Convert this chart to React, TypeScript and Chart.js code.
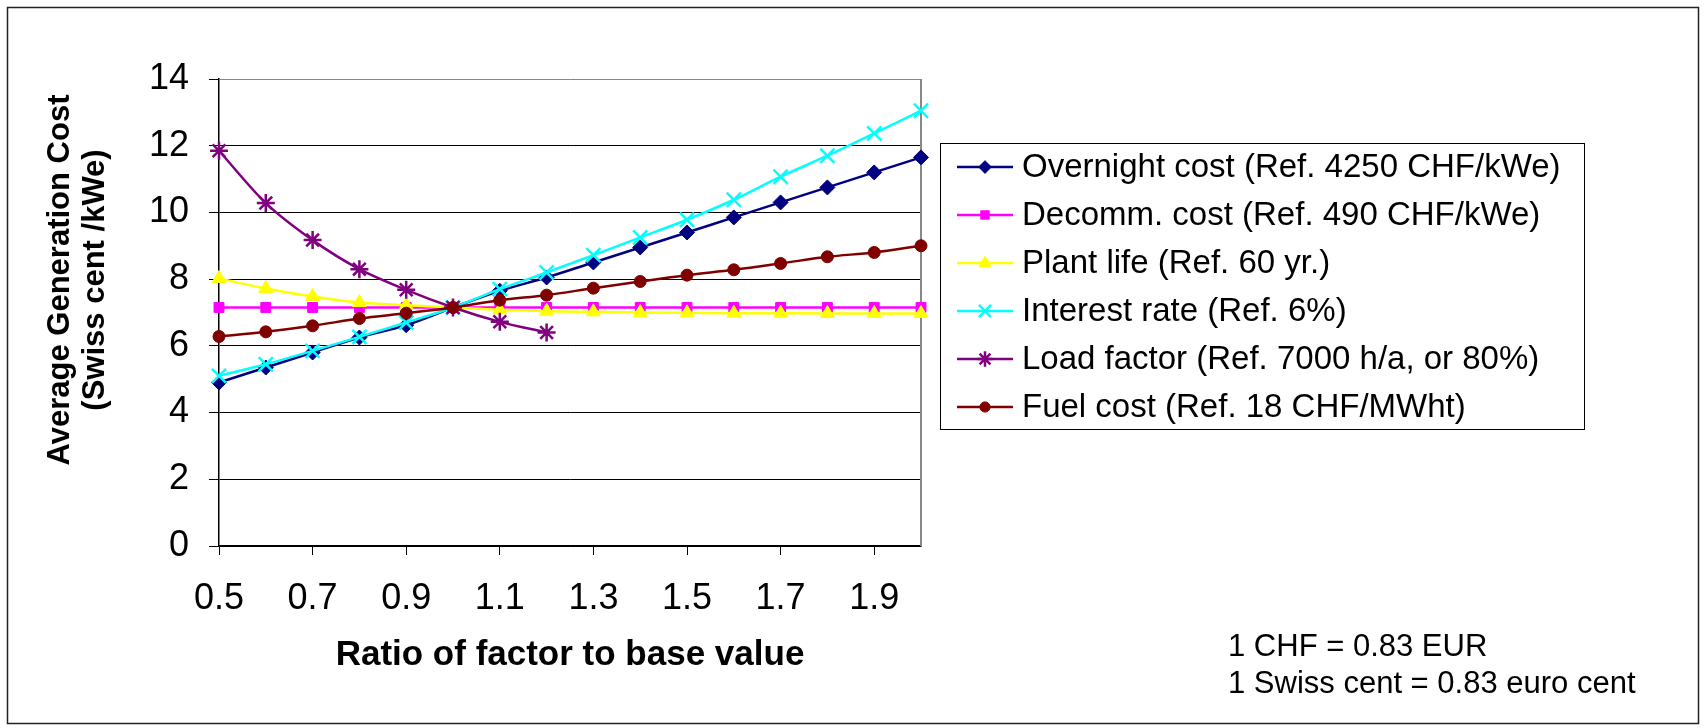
import React, { useEffect, useRef } from 'react';
import { Chart, registerables } from 'chart.js';
import * as helpers from 'chart.js/helpers';

Chart.register(...registerables);

const FONT = 'Arial, "Liberation Sans", sans-serif';

const ratios = [0.5, 0.6, 0.7, 0.8, 0.9, 1.0, 1.1, 1.2, 1.3, 1.4, 1.5, 1.6, 1.7, 1.8, 1.9, 2.0];
const xTickValues = [0.5, 0.7, 0.9, 1.1, 1.3, 1.5, 1.7, 1.9];

const seriesNames = [
  'Overnight cost (Ref. 4250 CHF/kWe)',
  'Decomm. cost (Ref. 490 CHF/kWe)',
  'Plant life (Ref. 60 yr.)',
  'Interest rate (Ref. 6%)',
  'Load factor (Ref. 7000 h/a, or 80%)',
  'Fuel cost (Ref. 18 CHF/MWht)',
];

const overnightCost = [4.9, 5.35, 5.8, 6.25, 6.62, 7.15, 7.65, 8.05, 8.5, 8.95, 9.4, 9.85, 10.3, 10.75, 11.2, 11.65];
const decommCost = [7.15, 7.15, 7.15, 7.15, 7.15, 7.15, 7.15, 7.15, 7.15, 7.15, 7.15, 7.15, 7.15, 7.15, 7.15, 7.15];
const plantLife = [8.02, 7.72, 7.48, 7.3, 7.22, 7.15, 7.08, 7.04, 7.02, 7.0, 6.99, 6.98, 6.98, 6.97, 6.97, 6.97];
const interestRate = [5.1, 5.45, 5.85, 6.27, 6.7, 7.15, 7.7, 8.2, 8.72, 9.25, 9.78, 10.38, 11.07, 11.7, 12.37, 13.05];
const loadFactor = [11.85, 10.28, 9.17, 8.3, 7.68, 7.15, 6.72, 6.4];
const fuelCost = [6.28, 6.42, 6.6, 6.82, 6.98, 7.15, 7.37, 7.52, 7.73, 7.93, 8.12, 8.28, 8.47, 8.67, 8.8, 9.0];

const seriesValues = [overnightCost, decommCost, plantLife, interestRate, loadFactor, fuelCost];
const seriesColors = ['#000080', '#FF00FF', '#FFFF00', '#00FFFF', '#800080', '#800000'];
const seriesMarkers = ['rectRot', 'rect', 'triangle', 'crossRot', 'star', 'circle'];
const markerSizes = [7.5, 7, 8, 10, 9, 6];

const xAxisTitle = 'Ratio of factor to base value';
const yAxisTitle = ['Average Generation Cost', '(Swiss cent /kWe)'];
const notes = ['1 CHF = 0.83 EUR', '1 Swiss cent = 0.83 euro cent'];

const W = 1704;
const H = 728;
const PLOT_LEFT = 219;
const PLOT_RIGHT = 921;
const PLOT_TOP = 79;
const PLOT_BOTTOM = 546;

const decorPlugin = {
  id: 'decor',
  beforeDraw(chart: any) {
    const ctx = chart.ctx;
    ctx.save();
    ctx.fillStyle = '#ffffff';
    ctx.fillRect(0, 0, chart.width, chart.height);
    ctx.restore();
  },
  beforeDatasetsDraw(chart: any) {
    const { ctx, chartArea } = chart;
    ctx.save();
    ctx.strokeStyle = '#888888';
    ctx.lineWidth = 2;
    ctx.beginPath();
    ctx.moveTo(chartArea.right, chartArea.top);
    ctx.lineTo(chartArea.right, chartArea.bottom);
    ctx.stroke();
    ctx.restore();
  },
  afterDraw(chart: any) {
    const ctx = chart.ctx;
    ctx.save();
    // outer frame
    ctx.strokeStyle = '#222';
    ctx.lineWidth = 1.5;
    ctx.strokeRect(7.5, 7.5, 1691, 716);

    // y axis title
    ctx.fillStyle = '#000';
    ctx.font = `bold 31px ${FONT}`;
    ctx.textAlign = 'center';
    ctx.textBaseline = 'middle';
    const ty = 280;
    yAxisTitle.forEach((line, i) => {
      ctx.save();
      ctx.translate(60 + i * 35, ty);
      ctx.rotate(-Math.PI / 2);
      ctx.fillText(line, 0, 0);
      ctx.restore();
    });

    // legend
    const lx = 940, ly = 143, lw = 644, lh = 286;
    ctx.strokeStyle = '#000';
    ctx.lineWidth = 1;
    ctx.strokeRect(lx + 0.5, ly + 0.5, lw, lh);
    ctx.font = `33px ${FONT}`;
    ctx.textAlign = 'left';
    ctx.textBaseline = 'middle';
    chart.data.datasets.forEach((ds: any, i: number) => {
      const y = 167 + i * 48;
      ctx.strokeStyle = ds.borderColor;
      ctx.lineWidth = 2.5;
      ctx.beginPath();
      ctx.moveTo(957, y);
      ctx.lineTo(1013, y);
      ctx.stroke();
      ctx.fillStyle = ds.pointBackgroundColor;
      ctx.strokeStyle = ds.pointBorderColor;
      ctx.lineWidth = ds.pointBorderWidth;
      helpers.drawPoint(ctx, {
        pointStyle: ds.pointStyle,
        radius: ds.pointRadius * 0.85,
        rotation: 0,
        borderWidth: ds.pointBorderWidth,
      } as any, 985, y);
      ctx.fillStyle = '#000';
      ctx.fillText(ds.label, 1022, y + 1);
    });

    // notes
    ctx.font = `31px ${FONT}`;
    ctx.fillStyle = '#000';
    notes.forEach((t, i) => ctx.fillText(t, 1228, 647 + i * 37));
    ctx.restore();
  },
};

export default function App() {
  const ref = useRef<HTMLCanvasElement>(null);
  useEffect(() => {
    if (!ref.current) return;
    const n = seriesValues.length;
    const datasets = seriesValues.map((vals, i) => ({
      label: seriesNames[i],
      data: vals.map((v, j) => ({ x: ratios[j], y: v })),
      borderColor: seriesColors[i],
      backgroundColor: seriesColors[i],
      pointBackgroundColor: seriesColors[i],
      pointBorderColor: seriesColors[i],
      pointStyle: seriesMarkers[i],
      pointRadius: markerSizes[i],
      pointBorderWidth: seriesMarkers[i] === 'crossRot' || seriesMarkers[i] === 'star' ? 2.5 : 1,
      borderWidth: 2.5,
      cubicInterpolationMode: 'monotone',
      clip: false,
      order: n - 1 - i,
    }));
    const chart = new Chart(ref.current, {
      type: 'line',
      data: { datasets } as any,
      options: {
        responsive: false,
        animation: false,
        devicePixelRatio: 1,
        layout: { padding: { left: 0, top: PLOT_TOP, right: W - PLOT_RIGHT, bottom: 0 } },
        plugins: { legend: { display: false }, tooltip: { enabled: false } },
        scales: {
          x: {
            type: 'linear',
            min: 0.5,
            max: 2.0,
            afterBuildTicks: (s: any) => {
              s.ticks = xTickValues.map((v) => ({ value: v }));
            },
            afterFit: (s: any) => {
              s.height = H - PLOT_BOTTOM;
            },
            ticks: {
              autoSkip: false,
              maxRotation: 0,
              padding: 22,
              color: '#000',
              font: { family: FONT, size: 36 },
              callback: (v: any) => Number(v).toFixed(1),
            },
            grid: { drawOnChartArea: false, drawTicks: true, tickLength: 9, color: '#000', tickColor: '#000' },
            border: { display: true, color: '#000', width: 1.5 },
            title: {
              display: true,
              text: xAxisTitle,
              color: '#000',
              font: { family: FONT, size: 35, weight: 'bold' },
              padding: { top: 0, bottom: 52 },
            },
          },
          y: {
            type: 'linear',
            min: 0,
            max: 14,
            afterFit: (s: any) => {
              s.width = PLOT_LEFT;
            },
            ticks: {
              stepSize: 2,
              padding: 20,
              color: '#000',
              font: { family: FONT, size: 36 },
            },
            grid: {
              color: (c: any) => (c.tick && c.tick.value === 14 ? '#888888' : '#000000'),
              tickColor: '#000',
              lineWidth: 1,
              tickLength: 10,
            },
            border: { display: true, color: '#000', width: 1.5 },
          },
        },
      } as any,
      plugins: [decorPlugin],
    });
    return () => chart.destroy();
  }, []);
  return (
    <div style={{ position: 'fixed', left: 0, top: 0, width: W, height: H, background: '#fff' }}>
      <canvas ref={ref} width={W} height={H} style={{ display: 'block' }} />
    </div>
  );
}
